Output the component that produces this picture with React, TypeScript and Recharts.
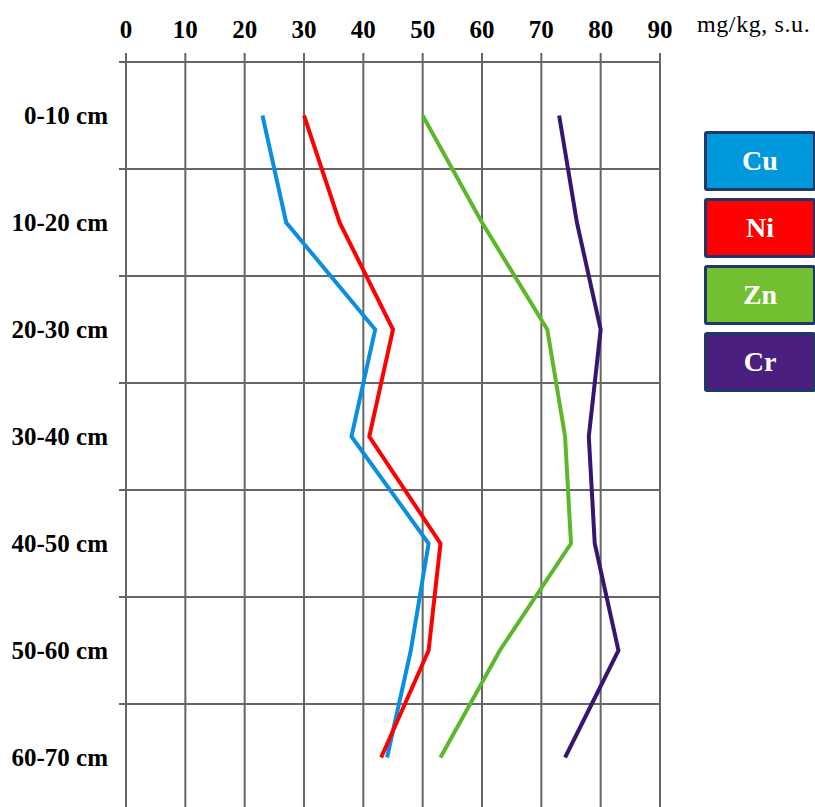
// Heavy metal content by soil depth (vertical profile chart)

import { LineChart, Line, XAxis, YAxis, CartesianGrid, ReferenceLine } from 'recharts';

const depths = ['0-10 cm', '10-20 cm', '20-30 cm', '30-40 cm', '40-50 cm', '50-60 cm', '60-70 cm'];
const cuValues = [23, 27, 42, 38, 51, 48, 44];
const niValues = [30, 36, 45, 41, 53, 51, 43];
const znValues = [50, 60, 71, 74, 75, 63, 53];
const crValues = [73, 76, 80, 78, 79, 83, 74];
const xTicks = [0, 10, 20, 30, 40, 50, 60, 70, 80, 90];
// band boundaries between depth layers (grid lines sit here, labels sit in between)
const bandEdges = [-0.5, 0.5, 1.5, 2.5, 3.5, 4.5, 5.5, 6.5];
const depthTicks = [-0.5, 0, 0.5, 1, 1.5, 2, 2.5, 3, 3.5, 4, 4.5, 5, 5.5, 6, 6.5];

const series = [
  { key: 'cu', name: 'Cu', line: '#0a8fe0', box: '#0098dd' },
  { key: 'ni', name: 'Ni', line: '#ff0000', box: '#ff0000' },
  { key: 'zn', name: 'Zn', line: '#5cb82a', box: '#72c02f' },
  { key: 'cr', name: 'Cr', line: '#361670', box: '#4a1f80' },
];

const chartData = depths.map((depth, i) => ({
  idx: i,
  depth,
  cu: cuValues[i],
  ni: niValues[i],
  zn: znValues[i],
  cr: crValues[i],
}));

const serif = '"Liberation Serif", "Times New Roman", serif';
const gridColor = '#666';

function DepthTick(props: any) {
  const { x, y, payload } = props;
  const v = payload.value;
  if (!Number.isInteger(v)) {
    // short outside tick on band boundaries
    return <line x1={x + 11} x2={x + 18} y1={y} y2={y} stroke={gridColor} strokeWidth={2} />;
  }
  return (
    <text x={x} y={y} dy="0.35em" textAnchor="end" fill="#000" fontSize={25} fontWeight="bold" fontFamily={serif}>
      {depths[v]}
    </text>
  );
}

export default function App() {
  return (
    <div style={{ position: 'fixed', left: 0, top: 0, width: 815, height: 807, overflow: 'hidden', background: '#fff' }}>
      <LineChart
        width={815}
        height={812}
        data={chartData}
        layout="vertical"
        margin={{ top: 0, right: 155, bottom: 1, left: 0 }}
      >
        <CartesianGrid horizontal={false} stroke={gridColor} strokeWidth={2} />
        <XAxis
          type="number"
          orientation="top"
          domain={[0, 90]}
          ticks={xTicks}
          interval={0}
          height={62}
          axisLine={false}
          tickSize={9}
          tickMargin={15}
          tickLine={{ stroke: gridColor, strokeWidth: 2 }}
          tick={{ fill: '#000', fontSize: 25, fontWeight: 'bold', fontFamily: serif }}
        />
        <YAxis
          type="number"
          dataKey="idx"
          domain={[-0.5, 6.5]}
          ticks={depthTicks}
          interval={0}
          width={126}
          axisLine={false}
          tickLine={false}
          tickSize={7}
          tickMargin={11}
          tick={<DepthTick />}
        />
        {bandEdges.map(v => (
          <ReferenceLine key={v} y={v} stroke={gridColor} strokeWidth={2} ifOverflow="visible" />
        ))}
        {series.map(s => (
          <Line
            key={s.key}
            dataKey={s.key}
            name={s.name}
            stroke={s.line}
            strokeWidth={4}
            dot={false}
            isAnimationActive={false}
          />
        ))}
      </LineChart>

      {/* unit label, top right */}
      <div style={{ position: 'absolute', left: 697, top: 11, fontFamily: serif, fontSize: 24, letterSpacing: 0.6, color: '#000', whiteSpace: 'nowrap' }}>
        mg/kg, s.u.
      </div>

      {/* legend boxes */}
      <div style={{ position: 'absolute', left: 704, top: 131 }}>
        {series.map(s => (
          <div
            key={s.key}
            style={{
              boxSizing: 'border-box',
              width: 112,
              height: 60,
              marginBottom: 7,
              background: s.box,
              border: '3px solid #203864',
              borderRadius: 3,
              display: 'flex',
              alignItems: 'center',
              justifyContent: 'center',
              color: '#fff',
              fontFamily: serif,
              fontWeight: 'bold',
              fontSize: 28,
            }}
          >
            {s.name}
          </div>
        ))}
      </div>
    </div>
  );
}
